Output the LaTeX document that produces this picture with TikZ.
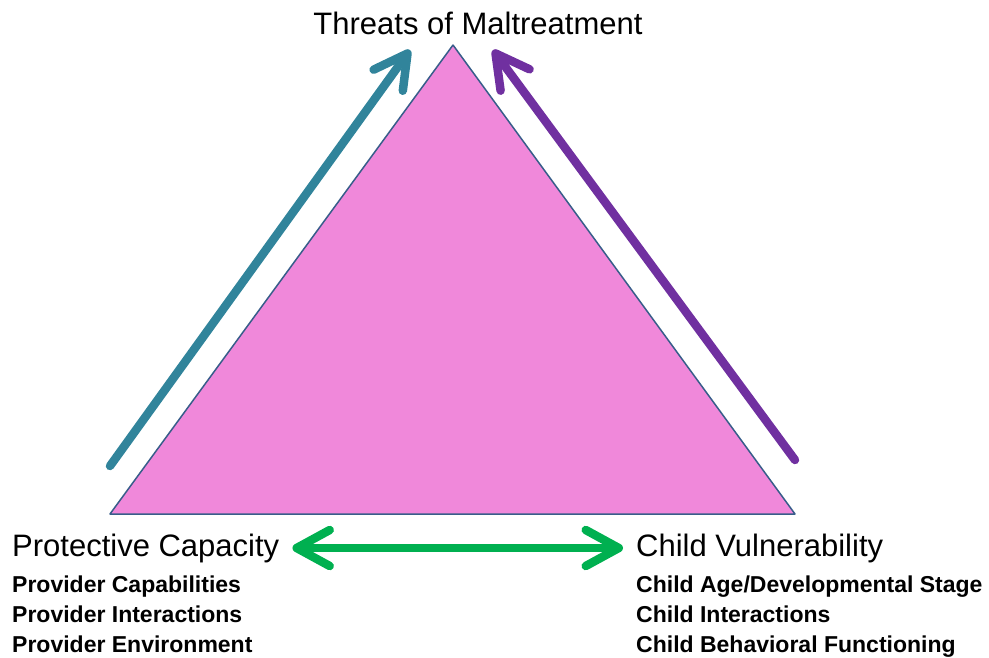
\documentclass[tikz,border=0pt]{standalone}
\usepackage{fontspec}
\setmainfont{Liberation Sans}
\usepackage{tikz}
\usetikzlibrary{arrows.meta}
\definecolor{tealarr}{HTML}{31849B}
\definecolor{purparr}{HTML}{7030A0}
\definecolor{greenarr}{HTML}{00B050}
\definecolor{trifill}{HTML}{F088DA}
\definecolor{triline}{HTML}{385D8A}
\tikzset{fatarrow/.style={line width=8.5pt, line cap=round, line join=round,
   arrows={-Straight Barb[length=33pt, width=36pt, line cap=round, line join=round]}},
 heading/.style={inner sep=0pt, font=\fontsize{31}{36}\selectfont},
 factors/.style={inner sep=0pt, align=left, anchor=north west,
   font=\bfseries\fontsize{23}{30}\selectfont},
 }

\begin{document}
\begin{tikzpicture}[x=1pt, y=-1pt]
        \useasboundingbox (0,0) rectangle (989,657);
        % triangle
        \coordinate (apex) at (453,45);
        \coordinate (bl) at (110,514);
        \coordinate (br) at (795,514);
        \filldraw[fill=trifill, draw=triline, line width=1.5pt, line join=round] (apex) -- (br) -- (bl) -- cycle;
        % labels
        \node[heading] (threat) at (478,23) {Threats of Maltreatment};
        \node[heading, anchor=west] (prot) at (12,548) {Protective Capacity};
        \node[heading, anchor=west] (vuln) at (636,548) {Child Vulnerability};
        \node[factors] (provlist) at (12,576) {Provider Capabilities\\Provider Interactions\\Provider Environment};
        \node[factors] (childlist) at (636,576) {Child Age/Developmental Stage\\Child Interactions\\Child Behavioral Functioning};
        % arrows
        \coordinate (tealfoot) at (110,466);
        \coordinate (tealtip) at (410,50);
        \coordinate (purpfoot) at (795,460);
        \coordinate (purptip) at (493,50);
        \draw[fatarrow, tealarr] (tealfoot) -- (tealtip);
        \draw[fatarrow, purparr] (purpfoot) -- (purptip);
        \draw[fatarrow, greenarr, arrows={Straight Barb[length=33pt, width=36pt, line cap=round, line join=round]-Straight Barb[length=33pt, width=36pt, line cap=round, line join=round]}]
            ([xshift=13pt]prot.east) -- ([xshift=-13pt]vuln.west);
    \end{tikzpicture}
\end{document}
